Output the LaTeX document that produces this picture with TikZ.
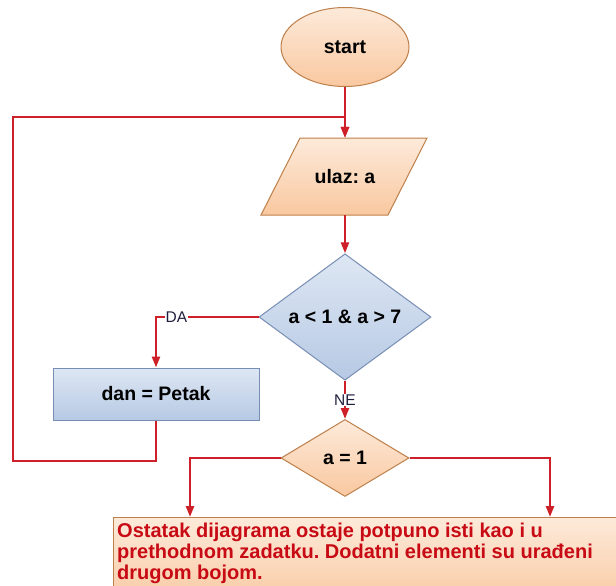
\documentclass[tikz,border=0pt]{standalone}
\usepackage{fontspec}
\setmainfont{Liberation Sans}
\usetikzlibrary{shapes.geometric,arrows.meta}
\definecolor{flowred}{RGB}{206,32,40}
\definecolor{notered}{RGB}{200,10,20}
\definecolor{peachtop}{RGB}{253,234,218}
\definecolor{peachbot}{RGB}{249,200,160}
\definecolor{peachline}{RGB}{190,128,75}
\definecolor{bluetop}{RGB}{222,231,243}
\definecolor{bluebot}{RGB}{182,201,228}
\definecolor{blueline}{RGB}{120,142,180}
\definecolor{lbltext}{RGB}{30,30,60}
\tikzset{
  peach/.style={draw=peachline, line width=1pt, top color=peachtop, bottom color=peachbot},
  bluefill/.style={draw=blueline, line width=1pt, top color=bluetop, bottom color=bluebot},
  nodetext/.style={font=\fontsize{19.5}{21}\selectfont\bfseries, text=black, inner sep=0pt},
  flow/.style={draw=flowred, line width=2.4pt, -{Triangle[length=11pt,width=8pt]}},
  lbl/.style={font=\fontsize{15.5}{17}\selectfont, text=lbltext, fill=white, inner sep=1pt},
}
\begin{document}
\frenchspacing
\begin{tikzpicture}[x=1pt,y=-1pt]
\useasboundingbox[fill=white] (0,0) rectangle (616,586);
% start
\node[ellipse, peach, nodetext, minimum width=128pt, minimum height=79pt] (start) at (345,47) {start};
% input parallelogram
\path[peach] (261,215) -- (388,215) -- (427,138) -- (300,138) -- cycle;
\node[nodetext, minimum width=166pt, minimum height=77pt] (ulaz) at (345,176.5) {ulaz: a};
% decision 1
\node[diamond, bluefill, nodetext, minimum width=172pt, minimum height=101pt] (d1) at (345,317) {a < 1 \& a > 7};
% process
\node[rectangle, bluefill, nodetext, minimum width=206pt, minimum height=52pt] (dan) at (156,394) {dan = Petak};
% decision 2
\node[diamond, peach, nodetext, minimum width=128pt, minimum height=77pt] (d2) at (345,458) {a = 1};
% note box
\node[rectangle, peach, anchor=north west, minimum width=530pt, minimum height=90pt, inner sep=0pt] (note) at (113,517) {};
\node[anchor=base west, text=notered, font=\fontsize{20}{21}\selectfont\bfseries,
      align=left, inner sep=0pt] (notetext) at (117,579)
  {Ostatak dijagrama ostaje potpuno isti kao i u\\prethodnom zadatku. Dodatni elementi su urađeni\\drugom bojom.};
\coordinate (loopBL) at (13,461);
\coordinate (loopTL) at (13,117);
\coordinate (nL) at (190,517);
\coordinate (nR) at (550,517);
% connectors
\draw[flow] (start.south) -- (ulaz.north);
\draw[flow] (ulaz.south) -- (d1.north);
\draw[flow] (d1.west) -| node[lbl, pos=0.4] (da) {DA} (dan.north);
\draw[flow] (d1.south) -- node[lbl] (ne) {NE} (d2.north);
\draw[flow] (dan.south) |- (loopBL) -- (loopTL) -| (ulaz.north);
\draw[flow] (d2.west) -| (nL);
\draw[flow] (d2.east) -| (nR);
\end{tikzpicture}
\end{document}
